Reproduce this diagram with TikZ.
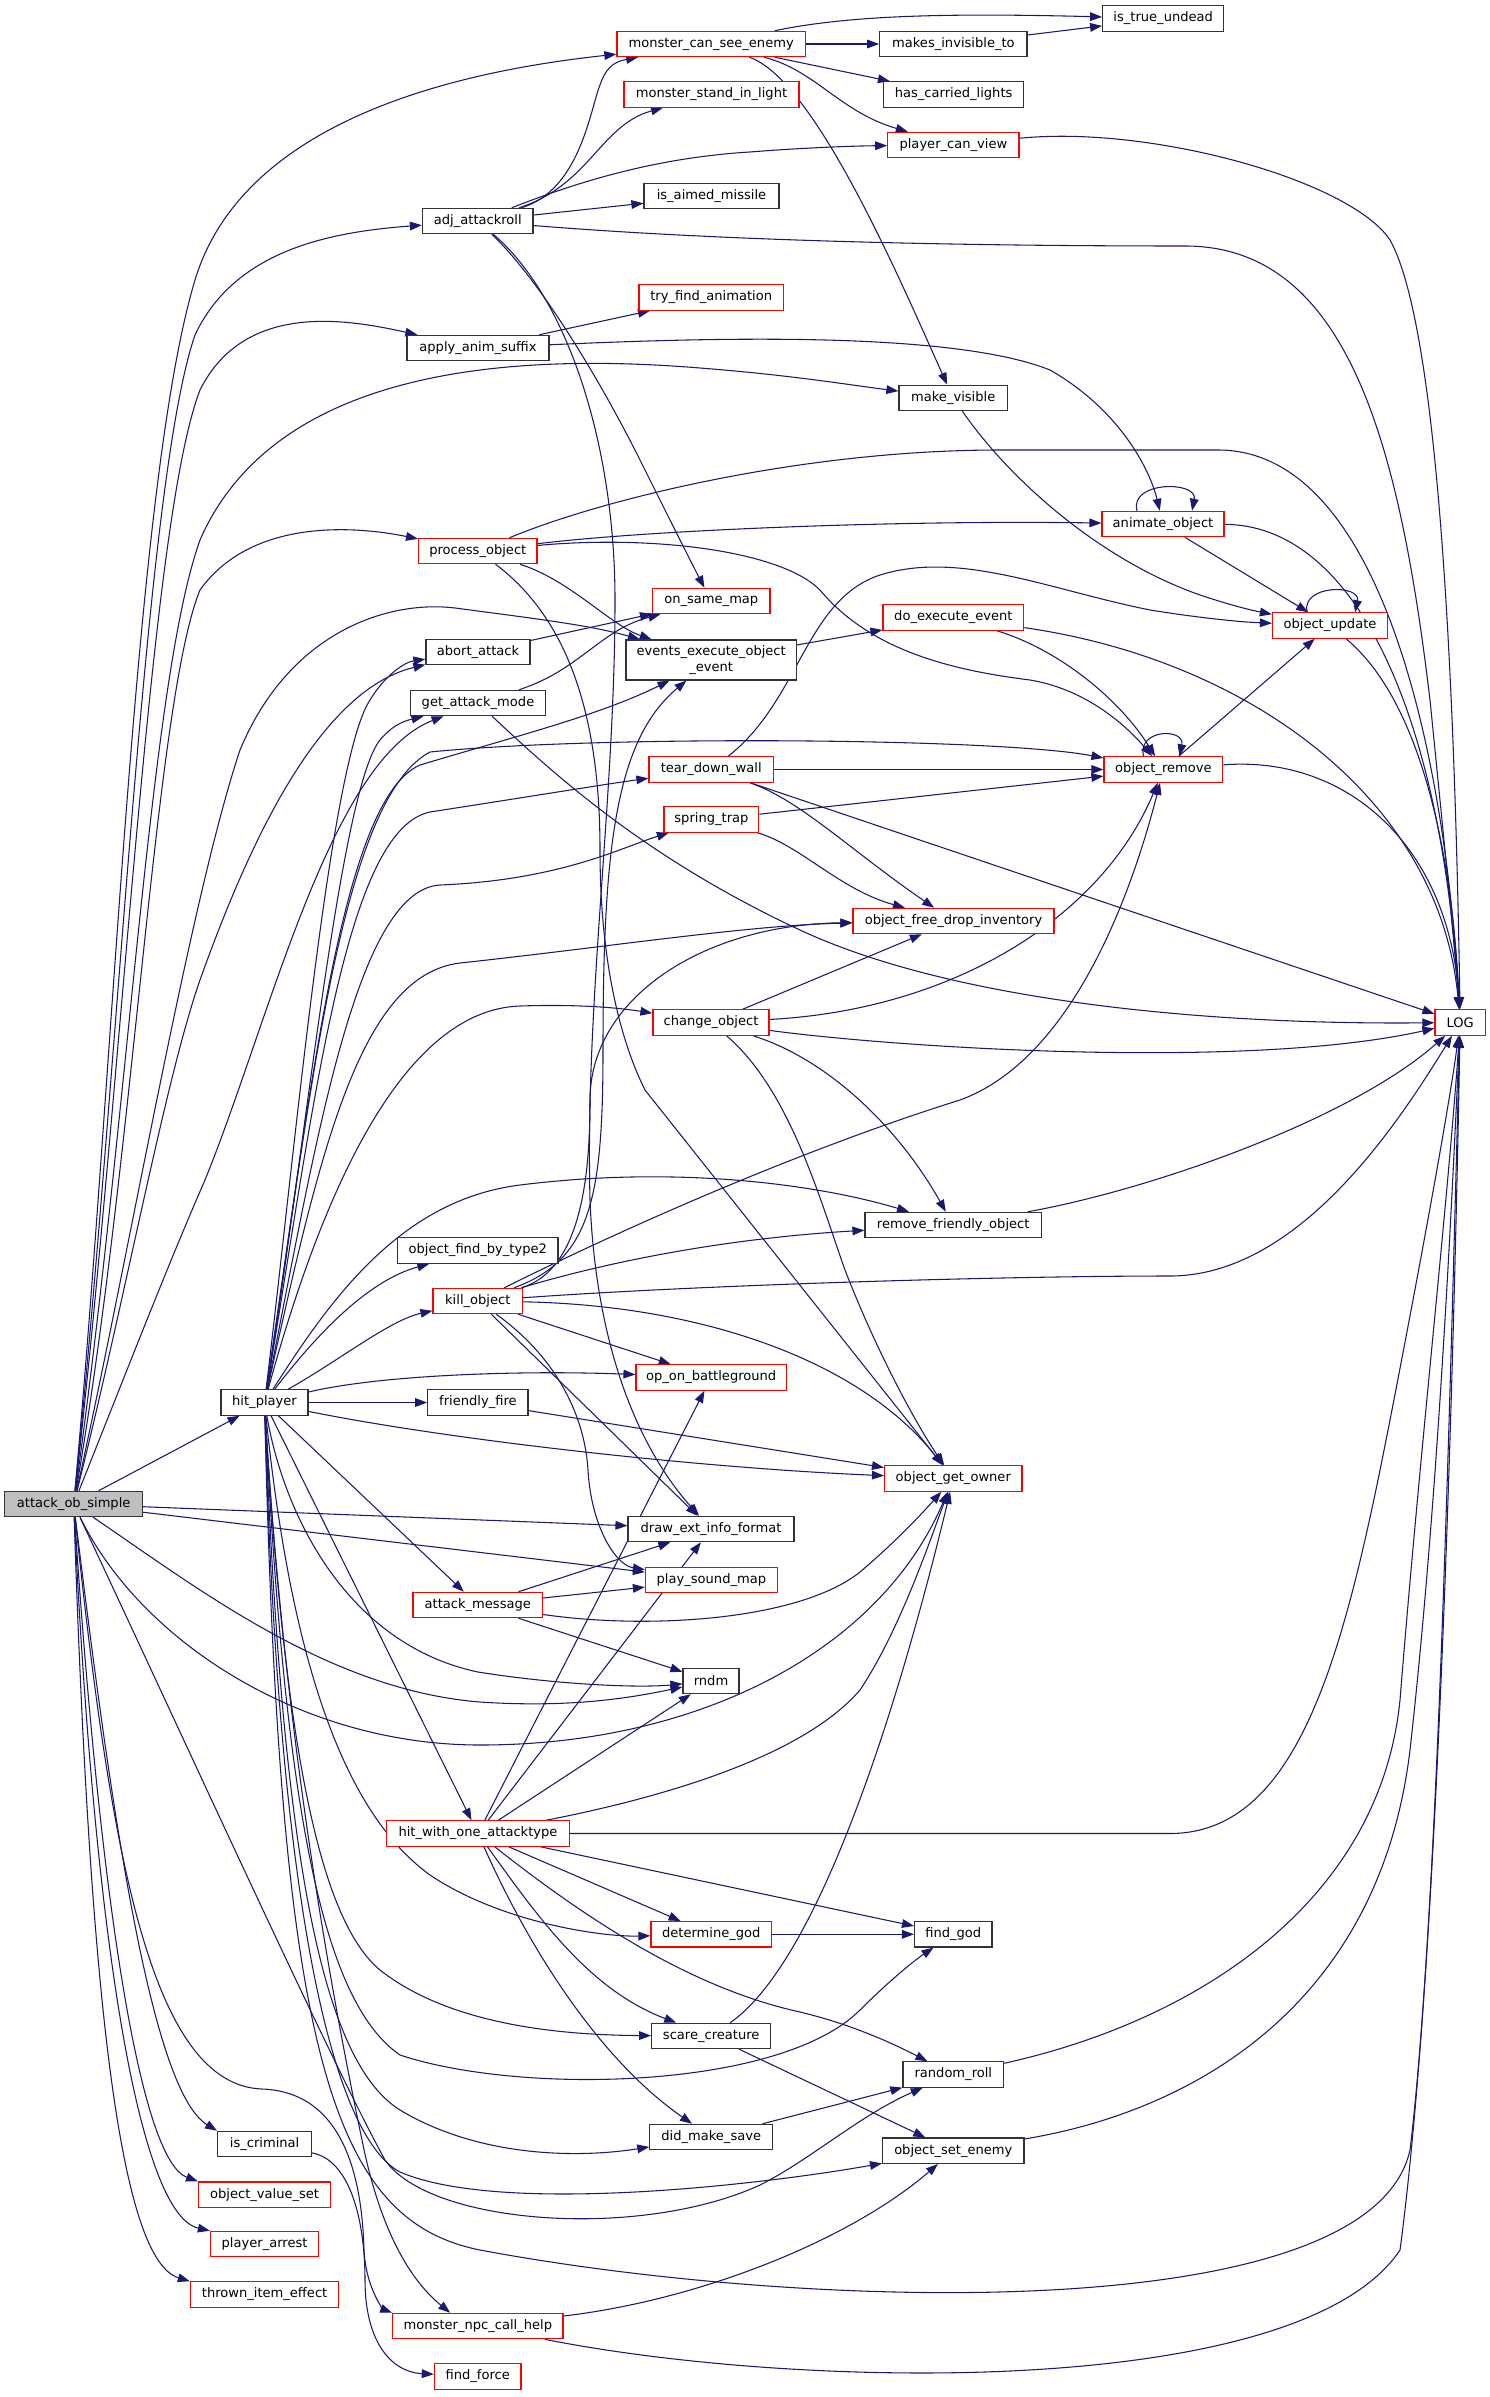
\documentclass[tikz,border=0pt]{standalone}
\usepackage{fontspec}
\setmainfont{DejaVu Sans}
\usetikzlibrary{arrows.meta,calc}
\definecolor{edgeblue}{RGB}{25,25,112}
\definecolor{rootgrey}{RGB}{191,191,191}
\pgfdeclarelayer{background}
\pgfsetlayers{background,main}

\begin{document}
\begin{tikzpicture}[x=0.75pt,y=-0.75pt,
	func/.style={draw=black!80, line width=0.9pt, fill=white, minimum height=19pt, inner xsep=2pt, inner ysep=1pt, font=\fontsize{9.8}{11.5}\selectfont},
	funcred/.style={func, draw=red},
	call/.style={draw=edgeblue, line width=0.8pt, -{Triangle[length=9pt,width=6.5pt]}}]
	\useasboundingbox (0,0) rectangle (1489,2397);

	\node[func, fill=rootgrey, minimum width=103.4pt] (aos) at (73.7,1504) {attack\_ob\_simple};
	\node[funcred, minimum width=141.4pt] (mcse) at (711.2,44) {monster\_can\_see\_enemy};
	\node[funcred, minimum width=131.3pt] (msil) at (711.5,94.5) {monster\_stand\_in\_light};
	\node[func, minimum width=101.3pt] (iam) at (711.5,196) {is\_aimed\_missile};
	\node[func, minimum width=82.9pt] (adj) at (477.8,221) {adj\_attackroll};
	\node[funcred, minimum width=108.4pt] (tfa) at (711.2,297.5) {try\_find\_animation};
	\node[func, minimum width=106.5pt] (aas) at (478,348) {apply\_anim\_suffix};
	\node[funcred, minimum width=88.8pt] (procobj) at (477.8,551) {process\_object};
	\node[funcred, minimum width=88.1pt] (osm) at (711.3,601) {on\_same\_map};
	\node[func, minimum width=78pt] (abort) at (478,652) {abort\_attack};
	\node[func, minimum width=127.9pt, minimum height=30pt, align=center] (eeoe) at (711.2,660) {events\_execute\_object\\\_event};
	\node[func, minimum width=101.3pt] (gam) at (478,703) {get\_attack\_mode};
	\node[func, minimum width=90.8pt] (itu) at (1163.2,18.5) {is\_true\_undead};
	\node[func, minimum width=110.5pt] (mit) at (953.4,44) {makes\_invisible\_to};
	\node[func, minimum width=105.2pt] (hcl) at (953.6,94.5) {has\_carried\_lights};
	\node[funcred, minimum width=98.4pt] (pcv) at (953.4,145) {player\_can\_view};
	\node[func, minimum width=81.4pt] (mkvis) at (953.2,398) {make\_visible};
	\node[funcred, minimum width=91.5pt] (animobj) at (1163,524) {animate\_object};
	\node[funcred, minimum width=105.5pt] (dee) at (953.4,617.5) {do\_execute\_event};
	\node[funcred, minimum width=86.3pt] (objupd) at (1330,625.5) {object\_update};
	\node[funcred, minimum width=93.4pt] (tdw) at (711.2,769.5) {tear\_down\_wall};
	\node[funcred, minimum width=71pt] (strap) at (711.4,819.5) {spring\_trap};
	\node[funcred, minimum width=87pt] (chobj) at (711,1022.5) {change\_object};
	\node[func, minimum width=120.3pt] (ofbt) at (477.8,1250.5) {object\_find\_by\_type2};
	\node[funcred, minimum width=67.1pt] (killobj) at (477.8,1301) {kill\_object};
	\node[funcred, minimum width=112.8pt] (oob) at (711.2,1377.5) {op\_on\_battleground};
	\node[func, minimum width=65.3pt] (hitp) at (264.5,1402.5) {hit\_player};
	\node[func, minimum width=75.2pt] (ffire) at (477.9,1402.5) {friendly\_fire};
	\node[funcred, minimum width=89.1pt] (objrem) at (1163.4,769.5) {object\_remove};
	\node[funcred, minimum width=150.8pt] (ofdi) at (953.5,921) {object\_free\_drop\_inventory};
	\node[funcred, minimum width=37.8pt] (log) at (1460.2,1022.5) {LOG};
	\node[func, minimum width=132.3pt] (rfo) at (953.2,1225) {remove\_friendly\_object};
	\node[funcred, minimum width=103.1pt] (ogo) at (953.3,1478.5) {object\_get\_owner};
	\node[func, minimum width=124.5pt] (deif) at (711,1529) {draw\_ext\_info\_format};
	\node[funcred, minimum width=98.9pt] (psm) at (711.4,1580) {play\_sound\_map};
	\node[funcred, minimum width=97.2pt] (atkmsg) at (477.8,1605) {attack\_message};
	\node[func, minimum width=42pt] (rndm) at (711,1681) {rndm};
	\node[funcred, minimum width=137.1pt] (hwoa) at (478,1833.5) {hit\_with\_one\_attacktype};
	\node[funcred, minimum width=90.5pt] (detgod) at (711.3,1934.3) {determine\_god};
	\node[func, minimum width=89.3pt] (scare) at (711.2,2036) {scare\_creature};
	\node[func, minimum width=92pt] (dms) at (711.2,2137) {did\_make\_save};
	\node[func, minimum width=70.4pt] (iscrim) at (264.6,2144) {is\_criminal};
	\node[funcred, minimum width=99pt] (ovs) at (264.6,2194.7) {object\_value\_set};
	\node[func, minimum width=58.1pt] (findgod) at (953.3,1934.3) {find\_god};
	\node[func, minimum width=75.5pt] (rroll) at (953.3,2074.5) {random\_roll};
	\node[func, minimum width=106.1pt] (ose) at (953.3,2150.7) {object\_set\_enemy};
	\node[funcred, minimum width=81.2pt] (parrest) at (264.6,2244) {player\_arrest};
	\node[funcred, minimum width=111.3pt] (tie) at (264.6,2294.5) {thrown\_item\_effect};
	\node[funcred, minimum width=127.7pt] (mnch) at (477.9,2326) {monster\_npc\_call\_help};
	\node[funcred, minimum width=65pt] (findforce) at (477.7,2376.5) {find\_force};

	\begin{pgfonlayer}{background}
	\draw[call] (aos) .. controls (115,1050) and (135,480) .. (195,280) .. controls (245,115) and (470,70) .. (mcse);
	\draw[call] (aos) .. controls (120,1050) and (145,480) .. (195,335) .. controls (235,250) and (330,232) .. (adj);
	\draw[call] (aos) .. controls (125,1050) and (150,520) .. (200,390) .. controls (245,300) and (350,320) .. (aas);
	\draw[call] (aos) .. controls (130,1100) and (150,680) .. (200,540) .. controls (270,380) and (480,350) .. (700,368) .. controls (790,375) and (850,385) .. (mkvis);
	\draw[call] (aos) .. controls (135,1150) and (155,700) .. (200,590) .. controls (250,520) and (350,525) .. (procobj);
	\draw[call] (aos) .. controls (130,1250) and (190,900) .. (240,750) .. controls (290,630) and (390,600) .. (455,608) .. controls (530,618) and (590,625) .. (eeoe);
	\draw[call] (aos) .. controls (125,1300) and (165,1080) .. (200,980) .. controls (250,840) and (320,690) .. (abort);
	\draw[call] (aos) .. controls (135,1350) and (170,1260) .. (205,1180) .. controls (270,1020) and (330,760) .. (gam);
	\draw[call] (aos) -- (hitp);
	\draw[call] (aos) -- (deif);
	\draw[call] (aos) -- (psm);
	\draw[call] (aos) .. controls (200,1590) and (330,1690) .. (480,1702) .. controls (570,1708) and (630,1698) .. (rndm);
	\draw[call] (aos) .. controls (140,1640) and (300,1745) .. (480,1745) .. controls (700,1745) and (880,1650) .. (ogo);
	\draw[call] (aos) .. controls (110,1800) and (150,2090) .. (iscrim.north west);
	\draw[call] (aos) .. controls (100,1900) and (140,2160) .. (ovs.north west);
	\draw[call] (aos) .. controls (95,1950) and (140,2215) .. (parrest.north west);
	\draw[call] (aos) .. controls (90,2000) and (120,2260) .. (tie.north west);
	\draw[call] (aos) .. controls (110,1850) and (150,2085) .. (262,2089) .. controls (345,2092) and (362,2180) .. (364,2250) .. controls (366,2290) and (385,2310) .. (mnch.north west);
	\draw[call] (aos) .. controls (180,1730) and (330,2060) .. (385,2160) .. controls (430,2225) and (640,2240) .. (760,2185) .. controls (810,2160) and (860,2115) .. (rroll);

	\draw[call] (hitp) .. controls (295,1150) and (330,760) .. (370,700) .. controls (385,675) and (405,662) .. (abort);
	\draw[call] (hitp) .. controls (305,1150) and (340,790) .. (380,740) .. controls (390,728) and (400,722) .. (gam);
	\draw[call] (hitp) .. controls (310,1100) and (340,800) .. (420,765) .. controls (520,735) and (600,715) .. (eeoe);
	\draw[call] (hitp) .. controls (310,1100) and (340,800) .. (430,752) .. controls (600,735) and (1000,738) .. (objrem);
	\draw[call] (hitp) .. controls (315,1100) and (345,830) .. (430,812) .. controls (540,795) and (600,785) .. (tdw);
	\draw[call] (hitp) .. controls (315,1150) and (355,890) .. (440,885) .. controls (560,880) and (620,848) .. (strap);
	\draw[call] (hitp) .. controls (320,1150) and (360,975) .. (460,963) .. controls (600,948) and (750,925) .. (ofdi);
	\draw[call] (hitp) .. controls (320,1200) and (400,1010) .. (520,1006) .. controls (580,1004) and (620,1008) .. (chobj);
	\draw[call] (hitp) .. controls (330,1300) and (400,1200) .. (520,1185) .. controls (680,1165) and (820,1185) .. (rfo);
	\draw[call] (hitp) .. controls (320,1330) and (370,1280) .. (ofbt);
	\draw[call] (hitp) .. controls (340,1360) and (390,1320) .. (killobj);
	\draw[call] (hitp) .. controls (380,1375) and (520,1370) .. (oob);
	\draw[call] (hitp) -- (ffire);
	\draw[call] (hitp) .. controls (450,1440) and (700,1468) .. (ogo);
	\draw[call] (hitp) -- (atkmsg);
	\draw[call] (hitp) -- (hwoa);
	\draw[call] (hitp) .. controls (285,1520) and (350,1645) .. (478,1672) .. controls (560,1685) and (640,1688) .. (rndm);
	\draw[call] (hitp) .. controls (290,1650) and (340,1810) .. (430,1875) .. controls (500,1922) and (600,1937) .. (detgod);
	\draw[call] (hitp) .. controls (285,1750) and (320,1920) .. (380,1970) .. controls (450,2025) and (560,2035) .. (scare);
	\draw[call] (hitp) .. controls (285,1800) and (320,2000) .. (400,2055) .. controls (520,2095) and (780,2090) .. (860,2010) .. controls (890,1980) and (915,1960) .. (findgod);
	\draw[call] (hitp) .. controls (282,1850) and (320,2060) .. (400,2110) .. controls (480,2158) and (580,2158) .. (dms);
	\draw[call] (hitp) .. controls (280,1950) and (340,2140) .. (400,2172) .. controls (500,2215) and (760,2185) .. (ose);
	\draw[call] (hitp) .. controls (280,2050) and (330,2220) .. (480,2250) .. controls (800,2310) and (1370,2330) .. (1410,2150) .. controls (1440,1900) and (1452,1300) .. (log);
	\draw[call] (hitp) .. controls (285,1750) and (335,2010) .. (362,2140) .. controls (380,2230) and (410,2280) .. ($(mnch.north west)+(58,0)$);

	\draw[call] (adj) .. controls (580,190) and (590,110) .. (600,85) .. controls (605,70) and (612,62) .. (mcse);
	\draw[call] (adj) .. controls (590,185) and (600,125) .. (msil);
	\draw[call] (adj) .. controls (570,185) and (650,158) .. (750,152) .. controls (800,148) and (850,146) .. (pcv);
	\draw[call] (adj) -- (iam);
	\draw[call] (adj) .. controls (650,235) and (850,246) .. (1185,246) .. controls (1350,246) and (1400,450) .. (1430,700) .. controls (1445,850) and (1455,950) .. (log);
	\draw[call] (adj) .. controls (540,280) and (600,380) .. (640,460) .. controls (670,520) and (690,560) .. (osm);
	\draw[call] (adj) .. controls (570,300) and (615,450) .. (615,600) .. controls (615,800) and (585,1000) .. (590,1200) .. controls (596,1350) and (640,1450) .. (deif);

	\draw[call] (mcse) .. controls (850,15) and (950,13) .. (itu);
	\draw[call] (mcse) -- (mit);
	\draw[call] (mcse) -- (hcl);
	\draw[call] (mcse) .. controls (815,70) and (840,112) .. (pcv);
	\draw[call] (mcse) .. controls (815,80) and (900,280) .. (mkvis);
	\draw[call] (mit) -- (itu);
	\draw[call] (pcv) .. controls (1150,125) and (1350,180) .. (1390,240) .. controls (1440,330) and (1455,700) .. (log);
	\draw[call] (aas) -- (tfa);
	\draw[call] (aas) .. controls (700,338) and (950,330) .. (1050,370) .. controls (1120,410) and (1150,470) .. (animobj);
	\draw[call] (mkvis) .. controls (1010,480) and (1100,560) .. (1200,595) .. controls (1230,605) and (1250,610) .. (objupd);
	\draw[call] (animobj) -- (objupd);
	\draw[call] (animobj) .. controls (1350,525) and (1440,700) .. (log);
	\draw[call] ($(animobj.north)+(-26,0)$) .. controls +(-8,-30) and +(6,-30) .. ($(animobj.north)+(29,0)$);

	\draw[call] (procobj) .. controls (650,530) and (900,520) .. (animobj);
	\draw[call] (procobj) .. controls (600,500) and (800,450) .. (1000,450) -- (1218,450) .. controls (1380,450) and (1445,750) .. (log);
	\draw[call] (procobj) .. controls (650,535) and (780,550) .. (820,590) .. controls (870,650) and (950,670) .. (1030,680) .. controls (1090,690) and (1130,730) .. (objrem);
	\draw[call] (procobj) .. controls (570,580) and (610,625) .. (eeoe);
	\draw[call] (procobj) .. controls (570,620) and (600,720) .. (600,850) .. controls (600,960) and (620,1040) .. (645,1090) -- (ogo);
	\draw[call] (abort) -- (osm);
	\draw[call] (gam) .. controls (580,670) and (600,630) .. (osm);
	\draw[call] (gam) .. controls (560,780) and (650,860) .. (800,930) .. controls (950,1000) and (1200,1025) .. (log);
	\draw[call] (eeoe) -- (dee);
	\draw[call] (dee) .. controls (1060,650) and (1120,700) .. (objrem);
	\draw[call] (dee) .. controls (1250,660) and (1440,800) .. (log);

	\draw[call] (tdw) .. controls (800,700) and (805,600) .. (880,575) .. controls (960,550) and (1050,590) .. (1150,610) .. controls (1200,618) and (1240,622) .. (objupd);
	\draw[call] (tdw) -- (objrem);
	\draw[call] (tdw) .. controls (800,800) and (850,850) .. (ofdi);
	\draw[call] (tdw) -- (log);
	\draw[call] (strap) -- (objrem);
	\draw[call] (strap) .. controls (800,845) and (840,890) .. (ofdi);
	\draw[call] ($(objrem.north)+(-20,0)$) .. controls +(-6,-28) and +(6,-28) .. ($(objrem.north)+(16,0)$);
	\draw[call] (objrem) -- (objupd);
	\draw[call] (objrem) .. controls (1350,755) and (1450,850) .. (log);
	\draw[call] (objupd) .. controls (1420,700) and (1452,850) .. (log);
	\draw[call] ($(objupd.north)+(-23,0)$) .. controls +(-6,-28) and +(6,-28) .. ($(objupd.north)+(25,0)$);

	\draw[call] (chobj) -- (ofdi);
	\draw[call] (chobj) .. controls (950,1010) and (1100,920) .. (objrem);
	\draw[call] (chobj) .. controls (900,1048) and (1250,1070) .. (log);
	\draw[call] (chobj) .. controls (830,1060) and (900,1130) .. (rfo);
	\draw[call] (chobj) .. controls (790,1090) and (820,1200) .. (845,1270) .. controls (880,1360) and (920,1430) .. (ogo);
	\draw[call] (rfo) .. controls (1150,1190) and (1350,1120) .. (log);

	\draw[call] (killobj) .. controls (580,1270) and (590,1180) .. (590,1100) .. controls (590,1000) and (700,925) .. (ofdi);
	\draw[call] (killobj) .. controls (590,1260) and (603,1200) .. (603,1050) .. controls (603,850) and (615,740) .. (eeoe);
	\draw[call] (killobj) .. controls (620,1230) and (800,1150) .. (960,1100) .. controls (1070,1060) and (1130,900) .. (objrem);
	\draw[call] (killobj) .. controls (580,1270) and (700,1240) .. (rfo);
	\draw[call] (killobj) .. controls (700,1285) and (1000,1276) .. (1170,1276) .. controls (1300,1276) and (1400,1120) .. (log);
	\draw[call] (killobj) .. controls (700,1305) and (860,1360) .. (ogo);
	\draw[call] (killobj) -- (oob);
	\draw[call] (killobj) -- (deif);
	\draw[call] (killobj) .. controls (560,1360) and (585,1420) .. (588,1470) .. controls (591,1525) and (615,1565) .. (psm);
	\draw[call] (ffire) -- (ogo);

	\draw[call] (hwoa) -- (1170,1833.5) .. controls (1300,1833.5) and (1345,1650) .. (1390,1420) .. controls (1425,1240) and (1450,1100) .. (log);
	\draw[call] (hwoa) .. controls (650,1800) and (800,1760) .. (860,1690) .. controls (900,1630) and (930,1540) .. (ogo);
	\draw[call] (hwoa) -- (oob);
	\draw[call] (hwoa) -- (deif);
	\draw[call] (hwoa) -- (rndm);
	\draw[call] (hwoa) -- (detgod);
	\draw[call] (hwoa) -- (findgod);
	\draw[call] (hwoa) .. controls (600,1930) and (700,1990) .. (800,2012) .. controls (850,2024) and (890,2042) .. (rroll);
	\draw[call] (hwoa) .. controls (540,1920) and (590,1990) .. (scare);
	\draw[call] (hwoa) .. controls (530,1950) and (600,2060) .. (dms);

	\draw[call] (atkmsg) -- (deif);
	\draw[call] (atkmsg) -- (psm);
	\draw[call] (atkmsg) -- (rndm);
	\draw[call] (atkmsg) .. controls (650,1630) and (800,1620) .. (860,1572) .. controls (900,1538) and (925,1510) .. (ogo);
	\draw[call] (scare) .. controls (820,1960) and (900,1700) .. (ogo);
	\draw[call] (scare) -- (ose);
	\draw[call] (dms) -- (rroll);
	\draw[call] (detgod) -- (findgod);
	\draw[call] (rroll) .. controls (1200,2020) and (1380,1900) .. (1400,1700) .. controls (1420,1450) and (1448,1200) .. (log);
	\draw[call] (ose) .. controls (1200,2110) and (1380,2000) .. (1410,1750) .. controls (1438,1500) and (1452,1200) .. (log);
	\draw[call] (mnch) .. controls (700,2300) and (850,2240) .. (ose);
	\draw[call] (mnch) .. controls (800,2390) and (1300,2400) .. (1400,2250) .. controls (1440,1950) and (1455,1300) .. (log);
	\draw[call] (iscrim) .. controls (350,2160) and (365,2220) .. (365,2280) .. controls (365,2340) and (390,2372) .. (findforce);
	\end{pgfonlayer}
\end{tikzpicture}
\end{document}
